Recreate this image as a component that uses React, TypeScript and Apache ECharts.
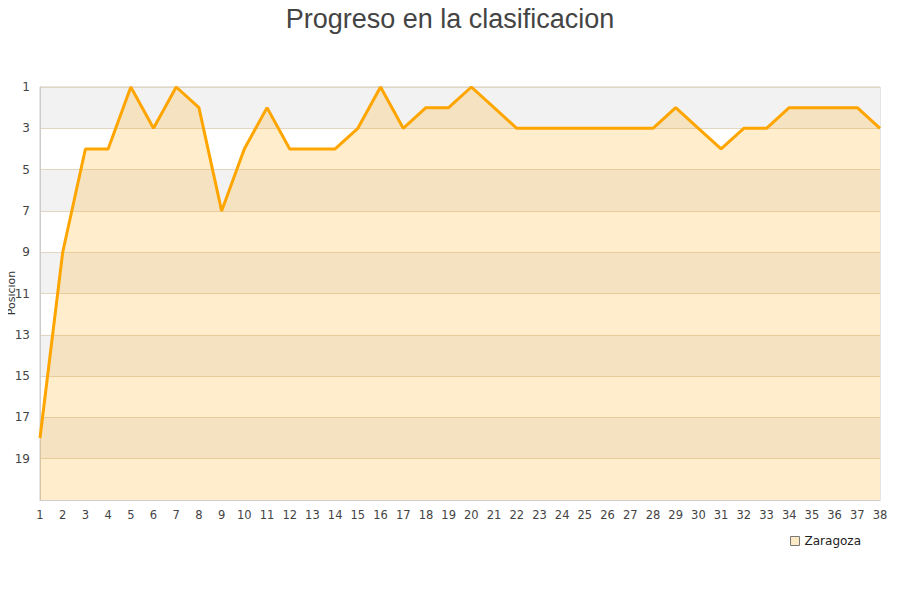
import React, { useRef, useEffect } from 'react';
import * as echarts from 'echarts';

const jornadas = Array.from({ length: 38 }, (_, i) => String(i + 1));
const posiciones = [
  18, 9, 4, 4, 1, 3, 1, 2, 7, 4,
  2, 4, 4, 4, 3, 1, 3, 2, 2, 1,
  2, 3, 3, 3, 3, 3, 3, 3, 2, 3,
  4, 3, 3, 2, 2, 2, 2, 3,
];
const equipo = 'Zaragoza';
const ejeY = 'Posicion';

const App: React.FC = () => {
  const chartRef = useRef<HTMLDivElement>(null);

  useEffect(() => {
    if (!chartRef.current) return;
    const chart = echarts.init(chartRef.current, undefined, { renderer: 'svg' });

    const option: echarts.EChartsOption = {
      animation: false,
      textStyle: { fontFamily: 'DejaVu Sans, sans-serif' },
      title: {
        text: 'Progreso en la clasificacion',
        left: 'center',
        top: 0,
        textStyle: { fontSize: 27, fontWeight: 'normal', color: '#444', fontFamily: 'Liberation Sans, Arial, sans-serif' },
      },
      // nombre del eje Y, girado
      graphic: [
        {
          type: 'text',
          x: 11,
          y: 293,
          rotation: Math.PI / 2,
          style: {
            text: ejeY,
            fontSize: 11,
            fill: '#333',
            align: 'center',
            verticalAlign: 'middle',
            fontFamily: 'DejaVu Sans, sans-serif',
          },
        },
      ],
      grid: {
        left: 40,
        right: 20,
        top: 87,
        bottom: 100,
        outerBoundsMode: 'none',
        show: true,
        borderColor: '#ccc',
        borderWidth: 1,
        backgroundColor: 'transparent',
      } as any,
      legend: {
        right: 34,
        top: 530,
        itemWidth: 9,
        itemHeight: 9,
        itemGap: 8,
        icon: 'rect',
        textStyle: { fontSize: 12, color: '#222' },
        data: [{ name: equipo, itemStyle: { color: '#fde9c4', borderColor: '#777', borderWidth: 1 } }],
      },
      xAxis: {
        type: 'category',
        data: jornadas,
        boundaryGap: false,
        axisLine: { lineStyle: { color: '#ccc' } },
        axisTick: { show: false },
        axisLabel: { color: '#444', fontSize: 11.5, interval: 0, margin: 9 },
      },
      yAxis: {
        type: 'value',
        inverse: true,
        min: 1,
        max: 21,
        interval: 2,
        axisLine: { show: true, lineStyle: { color: '#ccc' } },
        axisTick: { show: false },
        axisLabel: {
          color: '#444',
          fontSize: 12,
          margin: 10,
          formatter: (v: number) => (v === 21 ? '' : String(v)),
        },
        splitLine: { show: true, lineStyle: { color: '#e3d6c0' } },
        splitArea: { show: true, areaStyle: { color: ['#f2f2f2', '#ffffff'] } },
      },
      series: [
        {
          name: equipo,
          type: 'line',
          data: posiciones,
          symbol: 'none',
          lineStyle: { color: '#ffa500', width: 3 },
          itemStyle: { color: '#ffa500' },
          areaStyle: { color: '#ffa500', opacity: 0.2, origin: 'end' },
        },
      ],
    };

    chart.setOption(option);
    return () => chart.dispose();
  }, []);

  return <div ref={chartRef} style={{ width: 900, height: 600, margin: -8 }} />;
};

export default App;
